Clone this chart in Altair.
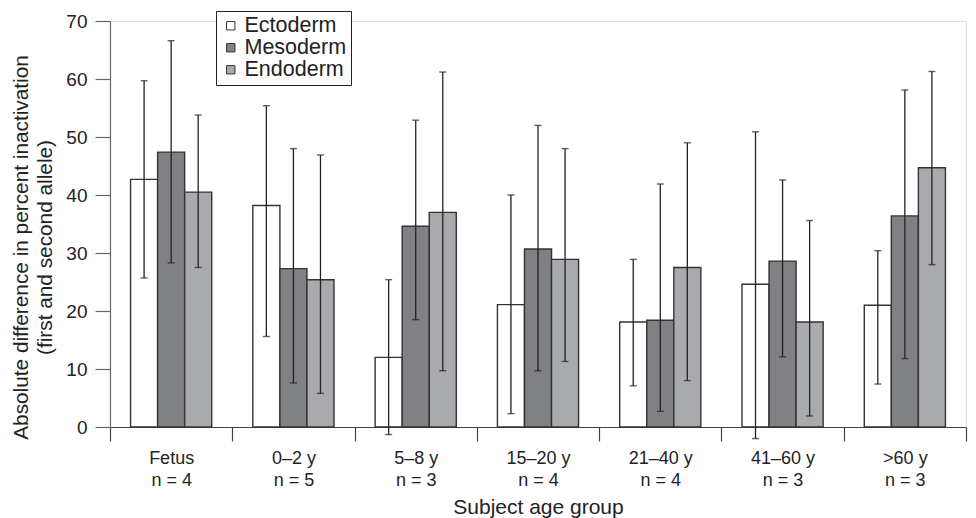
import altair as alt
import pandas as pd

groups = ["Fetus|n = 4", "0–2 y|n = 5", "5–8 y|n = 3", "15–20 y|n = 4",
          "21–40 y|n = 4", "41–60 y|n = 3", ">60 y|n = 3"]
layers = ["Ectoderm", "Mesoderm", "Endoderm"]

ecto_mean = [42.7, 38.2, 12.0, 21.1, 18.1, 24.6, 21.0]
ecto_low = [25.7, 15.6, -1.3, 2.3, 7.1, -2.0, 7.4]
ecto_high = [59.7, 55.4, 25.4, 40.0, 28.9, 50.9, 30.4]

meso_mean = [47.4, 27.3, 34.6, 30.7, 18.4, 28.6, 36.4]
meso_low = [28.3, 7.6, 18.5, 9.7, 2.7, 12.1, 11.8]
meso_high = [66.6, 48.0, 52.9, 52.0, 41.9, 42.6, 58.1]

endo_mean = [40.5, 25.4, 37.0, 28.9, 27.5, 18.1, 44.7]
endo_low = [27.5, 5.8, 9.7, 11.3, 8.0, 1.9, 28.0]
endo_high = [53.8, 46.9, 61.2, 48.0, 49.0, 35.6, 61.3]

colors = ["#ffffff", "#808185", "#a9aaad"]

rows = []
for name, m, lo, hi in [("Ectoderm", ecto_mean, ecto_low, ecto_high),
                        ("Mesoderm", meso_mean, meso_low, meso_high),
                        ("Endoderm", endo_mean, endo_low, endo_high)]:
    for g, a, b, c in zip(groups, m, lo, hi):
        rows.append({"group": g, "layer": name, "mean": a, "low": b, "high": c})
df = pd.DataFrame(rows)

FONT = "Liberation Sans"

x_enc = alt.X("group:N", sort=groups,
              scale=alt.Scale(paddingInner=0, paddingOuter=0),
              axis=alt.Axis(title="Subject age group", labelAngle=0,
                            labelExpr="split(datum.label, '|')",
                            labelFontSize=18, labelLineHeight=22, labelPadding=8,
                            labelColor="#222", labelFont=FONT,
                            tickBand="extent", tickSize=14, tickColor="#444",
                            domainColor="#444", domainWidth=1.2, tickWidth=1.2,
                            titleFontSize=21, titleFont=FONT, titleFontWeight="normal",
                            titleColor="#222", titleY=80, titleBaseline="middle"))
xoff_enc = alt.XOffset("layer:N", sort=layers,
                       scale=alt.Scale(paddingInner=0, paddingOuter=0.76))

y_scale = alt.Scale(domain=[0, 70], nice=False, zero=False)

bars = alt.Chart(df).mark_bar(stroke="#333", strokeWidth=1.4).encode(
    x=x_enc,
    xOffset=xoff_enc,
    y=alt.Y("mean:Q", scale=y_scale,
            axis=alt.Axis(title=["Absolute difference in percent inactivation",
                                 "(first and second allele)"],
                          values=[0, 10, 20, 30, 40, 50, 60, 70],
                          tickSize=15, labelPadding=8, labelFontSize=19,
                          labelFont=FONT, labelColor="#222",
                          tickColor="#666", domainColor="#666", tickWidth=1.2,
                          domainWidth=1.2, grid=False,
                          titleFontSize=20.8, titleFont=FONT, titleFontWeight="normal",
                          titleColor="#222", titleLineHeight=24,
                          titleX=-89, titleY=226, titleAngle=270,
                          titleAlign="center", titleBaseline="middle")),
    color=alt.Color("layer:N", sort=layers,
                    scale=alt.Scale(domain=layers, range=colors),
                    legend=alt.Legend(title=None, orient="none", legendX=106, legendY=-10,
                                      symbolType="square", symbolSize=70,
                                      symbolStrokeColor="#333", symbolStrokeWidth=1,
                                      labelFontSize=21.5, labelFont=FONT, labelColor="#222",
                                      labelOffset=3, rowPadding=-2,
                                      strokeColor="#222", padding=4,
                                      fillColor="white")),
)

err = alt.Chart(df).mark_rule(color="#222", strokeWidth=1.3).encode(
    x=alt.X("group:N", sort=groups),
    xOffset=alt.XOffset("layer:N", sort=layers),
    y=alt.Y("low:Q"),
    y2="high:Q",
)
cap_hi = alt.Chart(df).mark_tick(color="#222", size=7, thickness=1.4).encode(
    x=alt.X("group:N", sort=groups),
    xOffset=alt.XOffset("layer:N", sort=layers),
    y=alt.Y("high:Q"),
)
cap_lo = alt.Chart(df).mark_tick(color="#222", size=7, thickness=1.4).encode(
    x=alt.X("group:N", sort=groups),
    xOffset=alt.XOffset("layer:N", sort=layers),
    y=alt.Y("low:Q"),
)

chart = alt.layer(bars, err, cap_hi, cap_lo).properties(
    width=856, height=406,
    autosize=alt.AutoSizeParams(type="none"),
    padding={"left": 102, "top": 13, "right": 2, "bottom": 92},
).configure_view(stroke=None).configure(background="white")

chart.save("out.html", embed_options={"renderer": "svg", "actions": False})
